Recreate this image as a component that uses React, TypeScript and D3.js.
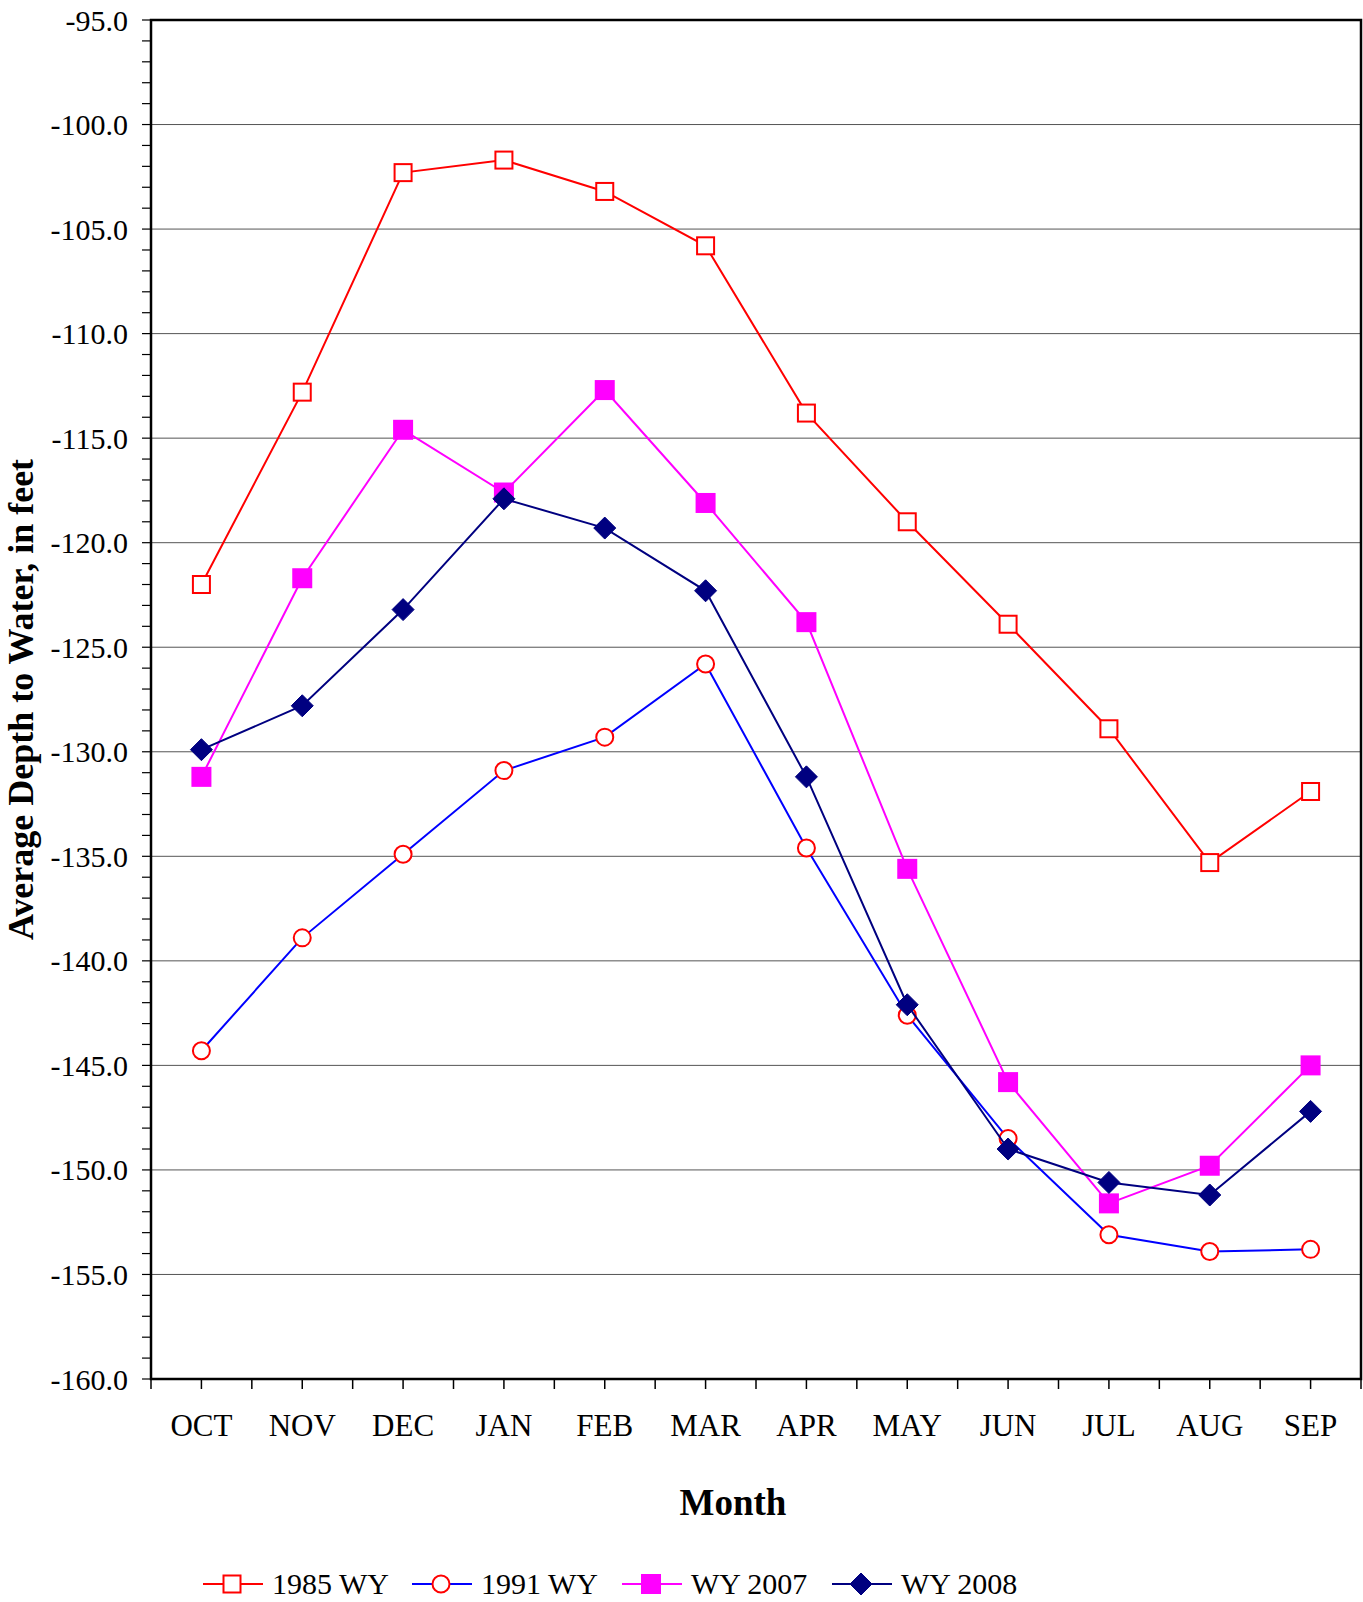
import React from 'react';
import * as d3 from 'd3';

const months = ['OCT', 'NOV', 'DEC', 'JAN', 'FEB', 'MAR', 'APR', 'MAY', 'JUN', 'JUL', 'AUG', 'SEP'];

const wy1985 = [-122.0, -112.8, -102.3, -101.7, -103.2, -105.8, -113.8, -119.0, -123.9, -128.9, -135.3, -131.9];
const wy1991 = [-144.3, -138.9, -134.9, -130.9, -129.3, -125.8, -134.6, -142.6, -148.5, -153.1, -153.9, -153.8];
const wy2007 = [-131.2, -121.7, -114.6, -117.6, -112.7, -118.1, -123.8, -135.6, -145.8, -151.6, -149.8, -145.0];
const wy2008 = [-129.9, -127.8, -123.2, -117.9, -119.3, -122.3, -131.2, -142.1, -149.0, -150.6, -151.2, -147.2];

const yTicks = d3.range(-160, -94, 5);

const series = [
  { name: '1985 WY', values: wy1985, line: '#FF0000', marker: 'square', stroke: '#FF0000', fill: '#FFFFFF' },
  { name: '1991 WY', values: wy1991, line: '#0000FF', marker: 'circle', stroke: '#FF0000', fill: '#FFFFFF' },
  { name: 'WY 2007', values: wy2007, line: '#FF00FF', marker: 'square', stroke: '#FF00FF', fill: '#FF00FF' },
  { name: 'WY 2008', values: wy2008, line: '#000080', marker: 'diamond', stroke: '#000080', fill: '#000080' },
];

const W = 1363;
const H = 1602;
const margin = { top: 20, right: 2, bottom: 223, left: 151 };
const font = '"Liberation Serif", "Times New Roman", serif';

const Marker = ({ type, x, y, stroke, fill }) => {
  if (type === 'circle') {
    return <circle cx={x} cy={y} r={8.5} fill={fill} stroke={stroke} strokeWidth={2} />;
  }
  if (type === 'diamond') {
    const r = 11;
    return <path d={`M${x},${y - r}L${x + r},${y}L${x},${y + r}L${x - r},${y}Z`} fill={fill} stroke={stroke} strokeWidth={1} />;
  }
  const s = fill === '#FFFFFF' ? 17 : 20;
  return <rect x={x - s / 2} y={y - s / 2} width={s} height={s} fill={fill} stroke={stroke} strokeWidth={fill === '#FFFFFF' ? 2 : 0} />;
};

export default function App() {
  const x = d3.scaleBand().domain(months).range([margin.left, W - margin.right]);
  const y = d3.scaleLinear().domain([-160, -95]).range([H - margin.bottom, margin.top]);
  const bw = x.bandwidth();
  const cx = (m) => x(m) + bw / 2;
  // excel shows a plain hyphen, not the unicode minus d3 uses
  const fmt = (v) => d3.format('.1f')(v).replace('\u2212', '-');

  const xTickPos = [];
  months.forEach((m) => {
    xTickPos.push(x(m));
    xTickPos.push(cx(m));
  });
  xTickPos.push(W - margin.right);

  const minor = d3.range(-160, -94, 1);

  const line = d3
    .line<number>()
    .x((d, i) => cx(months[i]))
    .y((d) => y(d));

  const left = margin.left;
  const right = W - margin.right;
  const top = margin.top;
  const bottom = H - margin.bottom;

  const legendX = [203, 412, 622, 832];
  const legendY = 1584;

  return (
    <svg width={W} height={H} style={{ position: 'absolute', left: 0, top: 0, background: '#fff' }} fontFamily={font}>
      <rect x={0} y={0} width={W} height={H} fill="#fff" />

      {yTicks.map((t) => (
        <line key={'g' + t} x1={left} x2={right} y1={y(t)} y2={y(t)} stroke="#555" strokeWidth={1} />
      ))}

      {minor.map((t) => (
        <line key={'m' + t} x1={left - 9} x2={left} y1={y(t)} y2={y(t)} stroke="#000" strokeWidth={1.2} />
      ))}

      {yTicks.map((t) => (
        <text key={'l' + t} x={128} y={y(t)} dy="0.35em" textAnchor="end" fontSize={30} fill="#000">
          {fmt(t)}
        </text>
      ))}

      {xTickPos.map((p, i) => (
        <line key={'xt' + i} x1={p} x2={p} y1={bottom} y2={bottom + 10} stroke="#000" strokeWidth={1.5} />
      ))}

      {months.map((m) => (
        <text key={m} x={cx(m)} y={1436} textAnchor="middle" fontSize={31} fill="#000">
          {m}
        </text>
      ))}

      <rect x={left} y={top} width={right - left} height={bottom - top} fill="none" stroke="#000" strokeWidth={2.5} />

      {series.map((s) => (
        <g key={s.name}>
          <path d={line(s.values)} fill="none" stroke={s.line} strokeWidth={2} />
          {s.values.map((v, i) => (
            <Marker key={i} type={s.marker} x={cx(months[i])} y={y(v)} stroke={s.stroke} fill={s.fill} />
          ))}
        </g>
      ))}

      <text x={733} y={1515} textAnchor="middle" fontSize={37} fontWeight="bold" fill="#000">
        Month
      </text>

      <text
        transform={`translate(33,${(top + bottom) / 2}) rotate(-90)`}
        textAnchor="middle"
        fontSize={36}
        fontWeight="bold"
        fill="#000"
      >
        Average Depth to Water, in feet
      </text>

      {series.map((s, i) => (
        <g key={'lg' + s.name}>
          <line x1={legendX[i]} x2={legendX[i] + 60} y1={legendY} y2={legendY} stroke={s.line} strokeWidth={2} />
          <Marker type={s.marker} x={legendX[i] + 29} y={legendY} stroke={s.stroke} fill={s.fill} />
          <text x={legendX[i] + 69} y={legendY} dy="0.33em" fontSize={30} fill="#000">
            {s.name}
          </text>
        </g>
      ))}
    </svg>
  );
}
